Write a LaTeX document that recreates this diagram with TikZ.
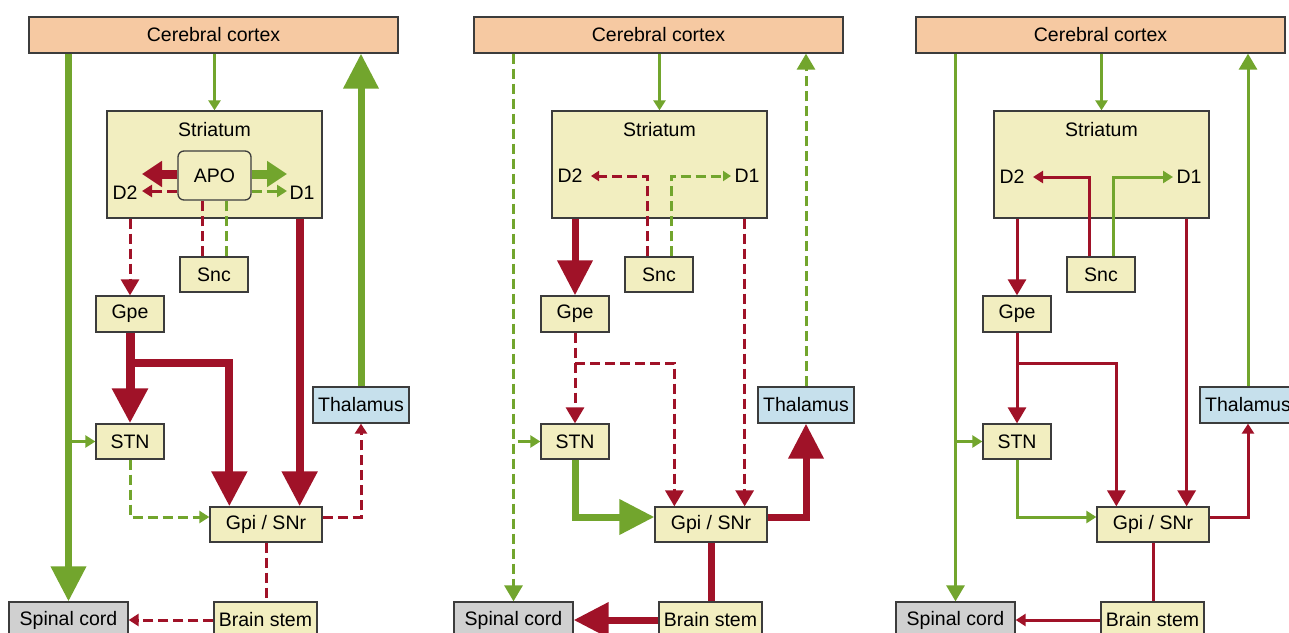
\documentclass[tikz,border=0pt]{standalone}
\usepackage{fontspec}
\setmainfont{Liberation Sans}
\usetikzlibrary{arrows.meta}
\definecolor{rdc}{RGB}{160,18,40}
\definecolor{grc}{RGB}{114,165,45}
\definecolor{cortexc}{RGB}{246,201,162}
\definecolor{boxc}{RGB}{242,238,192}
\definecolor{thalc}{RGB}{198,224,236}
\definecolor{spinc}{RGB}{208,208,208}
\definecolor{linec}{RGB}{60,60,60}
\newcommand\labfont{\fontsize{19.5}{22}\selectfont}
\tikzset{
  every node/.style={font=\labfont, text=black},
  box/.style={draw=linec, line width=1.3pt, inner sep=0pt, minimum height=36pt},
  rthin/.style={draw=rdc, line width=3pt},
  gthin/.style={draw=grc, line width=3pt},
  rthick/.style={draw=rdc, line width=8pt, line join=miter},
  gthick/.style={draw=grc, line width=7pt, line join=miter},
  dsh/.style={dash pattern=on 10pt off 5pt},
  tS/.style={-{Triangle[length=10pt,width=12pt]}},
  tT/.style={-{Triangle[length=8pt,width=10pt]}},
  tM/.style={-{Triangle[length=16pt,width=18pt]}},
  tB/.style={-{Triangle[length=35pt,width=34pt]}},
  tA/.style={-{Triangle[length=20pt,width=25pt]}},
}
\newcommand\mkpanel[3]{%
\begin{scope}[xshift=#2pt]
  \node[box, fill=cortexc, minimum width=369pt] (#1cortex) at (213.5,35) {Cerebral cortex};
  \node[box, fill=boxc, minimum width=215pt, minimum height=107pt] (#1str) at (214.5,164.5) {};
  \node (#1strtxt) at (214.5,130) {Striatum};
  \node (#1D2) at (125,#3) {D2};
  \node (#1D1) at (302,#3) {D1};
  \node[box, fill=boxc, minimum width=68pt, minimum height=35pt] (#1snc) at (214,274.5) {Snc};
  \node[box, fill=boxc, minimum width=68pt] (#1gpe) at (130,314) {Gpe};
  \node[box, fill=boxc, minimum width=68pt, minimum height=35pt] (#1stn) at (130,441.5) {STN};
  \node[box, fill=thalc, minimum width=96pt] (#1thal) at (361,405) {Thalamus};
  \node[box, fill=boxc, minimum width=112pt, minimum height=35pt] (#1gpi) at (266,524.5) {Gpi / SNr};
  \node[box, fill=boxc, minimum width=103pt] (#1brain) at (265.5,620) {Brain stem};
  \node[box, fill=spinc, minimum width=119pt] (#1spinal) at (68.5,620) {Spinal cord};
  \coordinate (#1d2tip) at (146,#3);
  \coordinate (#1d1tip) at (286,#3);
  \coordinate (#1br) at (130,363);
  \coordinate (#1gpiin) at ([xshift=-23pt]#1gpi.north east);
  \coordinate (#1gpiin2) at ([xshift=20pt]#1gpi.north west);
  \coordinate (#1gpiL) at ([yshift=7.5pt]#1gpi.west);
  \coordinate (#1gpiR) at ([yshift=7.5pt]#1gpi.east);
\end{scope}}
\begin{document}
\begin{tikzpicture}[x=1pt,y=-1pt]
\useasboundingbox (0,0) rectangle (1289,632);
\fill[white] (0,0) rectangle (1289,632);
\clip (0,0) rectangle (1289,632);

% ---------------- Panel 1 ----------------
\mkpanel{A}{0}{193}
\node[draw=linec, line width=1.3pt, fill=boxc, rounded corners=6pt, inner sep=0pt,
      minimum width=73pt, minimum height=49pt] (Aapo) at (214.5,175.5) {APO};
\coordinate (AtipR1) at (142,174);
\coordinate (AtipR2) at (142,191);
\coordinate (AtipG1) at (287,174);
\coordinate (AtipG2) at (287,191);
\draw[gthin,tS] (Acortex.south -| Astr.north) -- (Astr.north);
\draw[gthick,tB] (Acortex.south -| Aspinal.north) -- (Aspinal.north);
\draw[gthick,tB] (Athal.north) -- (Athal.north |- Acortex.south);
\draw[rdc,line width=9pt,tA] (Aapo.west |- AtipR1) -- (AtipR1);
\draw[rthin,dsh,tS] (Aapo.west |- AtipR2) -- (AtipR2);
\draw[grc,line width=9pt,tA] (Aapo.east |- AtipG1) -- (AtipG1);
\draw[gthin,dsh,tS] (Aapo.east |- AtipG2) -- (AtipG2);
\draw[rthin,dsh] ([xshift=-12pt]Asnc.north) -- ([xshift=-12pt]Asnc.north |- Aapo.south);
\draw[gthin,dsh] ([xshift=12pt]Asnc.north) -- ([xshift=12pt]Asnc.north |- Aapo.south);
\draw[rthin,dsh,tM] (Astr.south -| Agpe.north) -- (Agpe.north);
\draw[rthick,tB] (Astr.south -| Agpiin) -- (Agpiin);
\draw[rthick,line width=9pt,tB] (Agpe.south) -- (Astn.north);
\draw[rthick,tB] (Abr) -| (Agpiin2);
\draw[gthin,tS] (Astn.west -| Aspinal.north) -- (Astn.west);
\draw[gthin,dsh,tS] (Astn.south) |- (AgpiL);
\draw[rthin,dsh,tS] (AgpiR) -| (Athal.south);
\draw[rthin,dsh] (Agpi.south) -- (Agpi.south |- Abrain.north);
\draw[rthin,dsh,tS] (Abrain.west) -- (Aspinal.east);

% ---------------- Panel 2 ----------------
\mkpanel{B}{445}{176}
\draw[gthin,tS] (Bcortex.south -| Bstr.north) -- (Bstr.north);
\draw[gthin,dsh,tM] (Bcortex.south -| Bspinal.north) -- (Bspinal.north);
\draw[gthin,dsh,tM] (Bthal.north) -- (Bthal.north |- Bcortex.south);
\draw[rthin,dsh,tT] ([xshift=-12pt]Bsnc.north) |- (Bd2tip);
\draw[gthin,dsh,tT] ([xshift=12pt]Bsnc.north) |- (Bd1tip);
\draw[rthick,line width=7pt,tB] (Bstr.south -| Bgpe.north) -- (Bgpe.north);
\draw[rthin,dsh,tM] (Bstr.south -| Bgpiin) -- (Bgpiin);
\draw[rthin,dsh,tM] (Bgpe.south) -- (Bstn.north);
\draw[rthin,dsh,tM] (Bbr) -| (Bgpiin2);
\draw[gthin,tS] ([xshift=4pt]Bstn.west -| Bspinal.north) -- (Bstn.west);
\draw[gthick,tB] (Bstn.south) |- (BgpiL);
\draw[rthick,line width=7pt,tB] (BgpiR) -| (Bthal.south);
\draw[rthick,line width=7pt] (Bgpi.south) -- (Bgpi.south |- Bbrain.north);
\draw[rthick,line width=7pt,tB] (Bbrain.west) -- (Bspinal.east);

% ---------------- Panel 3 ----------------
\mkpanel{C}{887}{177}
\draw[gthin,tS] (Ccortex.south -| Cstr.north) -- (Cstr.north);
\draw[gthin,tM] (Ccortex.south -| Cspinal.north) -- (Cspinal.north);
\draw[gthin,tM] (Cthal.north) -- (Cthal.north |- Ccortex.south);
\draw[rthin,tS] ([xshift=-12pt]Csnc.north) |- (Cd2tip);
\draw[gthin,tS] ([xshift=12pt]Csnc.north) |- (Cd1tip);
\draw[rthin,tM] (Cstr.south -| Cgpe.north) -- (Cgpe.north);
\draw[rthin,tM] (Cstr.south -| Cgpiin) -- (Cgpiin);
\draw[rthin,tM] (Cgpe.south) -- (Cstn.north);
\draw[rthin,tM] (Cbr) -| (Cgpiin2);
\draw[gthin,tS] (Cstn.west -| Cspinal.north) -- (Cstn.west);
\draw[gthin,tS] (Cstn.south) |- (CgpiL);
\draw[rthin,tS] (CgpiR) -| (Cthal.south);
\draw[rthin] (Cgpi.south) -- (Cgpi.south |- Cbrain.north);
\draw[rthin,tS] (Cbrain.west) -- (Cspinal.east);
\end{tikzpicture}
\end{document}
